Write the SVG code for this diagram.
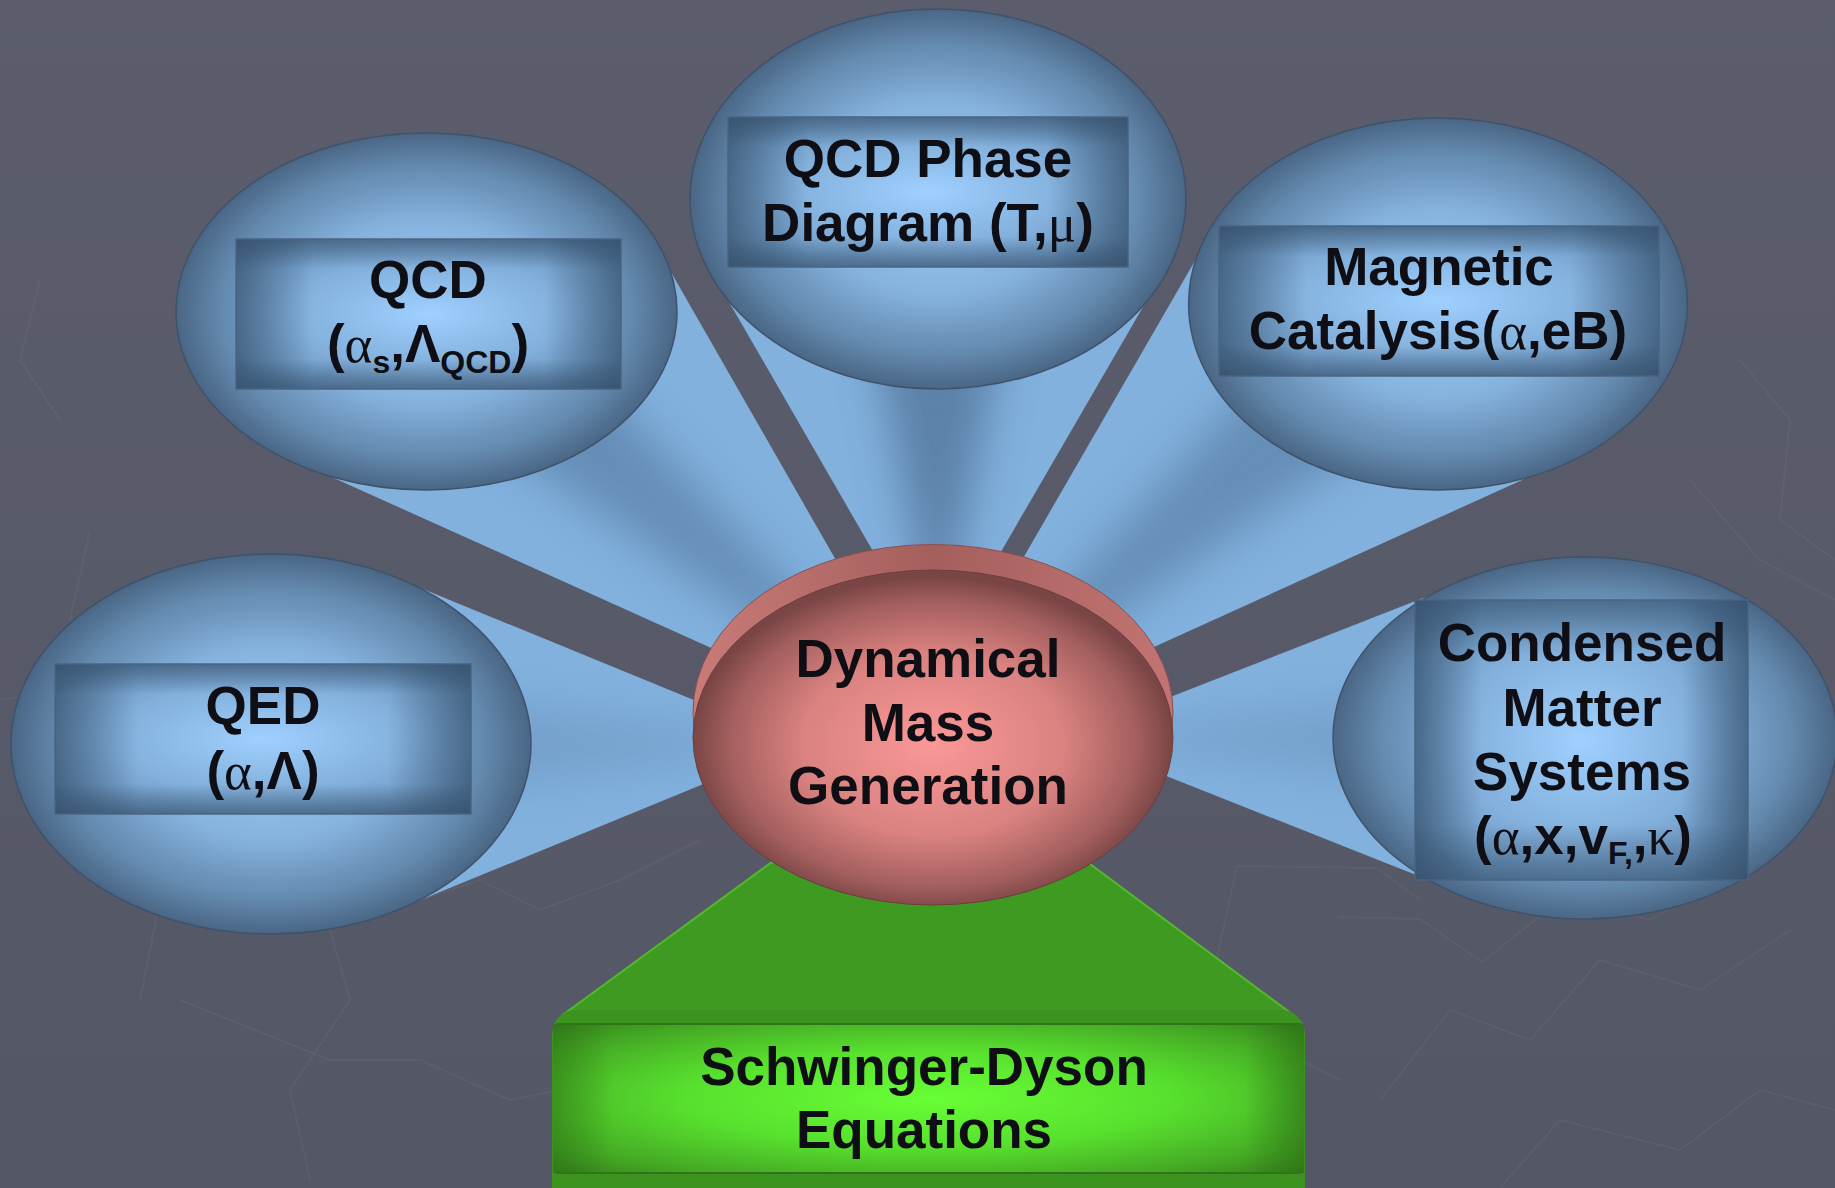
<svg xmlns="http://www.w3.org/2000/svg" width="1835" height="1188" viewBox="0 0 1835 1188">
  <defs>
    <style>
      .t { font-family: "Liberation Sans", Arial, sans-serif; font-weight: bold; font-size: 53px; fill: #0e0e14; text-anchor: middle; }
      .g { font-family: "Liberation Serif", "DejaVu Serif", serif; font-weight: normal; }
      .sub { font-size: 32px; }
      .bubble { fill: url(#bubbleGrad); stroke: #3e536b; stroke-width: 1.5; }
      .panel { fill: url(#panelGrad); }
      .panelH { fill: url(#panelEdgeH); }
      .panelV { fill: url(#panelEdgeV); }
      .panelLine { fill: none; stroke: #4a6482; stroke-width: 1.5; }
      .wedge { fill: #82b1de; }
      .core { fill: #4f7296; filter: url(#soft); }
      .bgline { fill: none; stroke: #6c6e7e; stroke-width: 2; opacity: 0.3; }
    </style>
    <linearGradient id="bgGrad" x1="0" y1="0" x2="0" y2="1">
      <stop offset="0" stop-color="#5b5d6d"/>
      <stop offset="1" stop-color="#545766"/>
    </linearGradient>
    <radialGradient id="bubbleGrad" cx="0.5" cy="0.5" r="0.5">
      <stop offset="0" stop-color="#9ccbf7"/>
      <stop offset="0.5" stop-color="#86b3de"/>
      <stop offset="0.82" stop-color="#6389ae"/>
      <stop offset="1" stop-color="#4a6685"/>
    </radialGradient>
    <radialGradient id="panelGrad" cx="0.5" cy="0.5" r="0.6">
      <stop offset="0" stop-color="#9fd0ff"/>
      <stop offset="0.6" stop-color="#82afdb"/>
      <stop offset="1" stop-color="#6690b8"/>
    </radialGradient>
    <linearGradient id="panelEdgeH" x1="0" y1="0" x2="1" y2="0">
      <stop offset="0" stop-color="#2e4660" stop-opacity="0.6"/>
      <stop offset="0.2" stop-color="#2e4660" stop-opacity="0"/>
      <stop offset="0.8" stop-color="#2e4660" stop-opacity="0"/>
      <stop offset="1" stop-color="#2e4660" stop-opacity="0.6"/>
    </linearGradient>
    <linearGradient id="panelEdgeV" x1="0" y1="0" x2="0" y2="1">
      <stop offset="0" stop-color="#2e4660" stop-opacity="0.55"/>
      <stop offset="0.2" stop-color="#2e4660" stop-opacity="0"/>
      <stop offset="0.8" stop-color="#2e4660" stop-opacity="0"/>
      <stop offset="1" stop-color="#2e4660" stop-opacity="0.55"/>
    </linearGradient>
    <linearGradient id="rimGrad" x1="0" y1="0" x2="1" y2="0">
      <stop offset="0" stop-color="#c97b78"/>
      <stop offset="0.5" stop-color="#a45f5d"/>
      <stop offset="1" stop-color="#c27472"/>
    </linearGradient>
    <radialGradient id="faceGrad" cx="0.5" cy="0.52" r="0.5">
      <stop offset="0" stop-color="#fb9896"/>
      <stop offset="0.55" stop-color="#d98280"/>
      <stop offset="0.85" stop-color="#a35f5e"/>
      <stop offset="1" stop-color="#7a4545"/>
    </radialGradient>
    <radialGradient id="greenFace" cx="0.5" cy="0.5" r="0.72">
      <stop offset="0" stop-color="#68ff35"/>
      <stop offset="0.45" stop-color="#58e02e"/>
      <stop offset="0.8" stop-color="#44a824"/>
      <stop offset="1" stop-color="#347f1a"/>
    </radialGradient>
    <linearGradient id="greenSides" x1="0" y1="0" x2="1" y2="0">
      <stop offset="0" stop-color="#2c6e15" stop-opacity="0.5"/>
      <stop offset="0.08" stop-color="#2c6e15" stop-opacity="0"/>
      <stop offset="0.92" stop-color="#2c6e15" stop-opacity="0"/>
      <stop offset="1" stop-color="#2c6e15" stop-opacity="0.6"/>
    </linearGradient>
    <filter id="soft" x="-30%" y="-30%" width="160%" height="160%">
      <feGaussianBlur stdDeviation="22"/>
    </filter>
    <clipPath id="clipQcd"><polygon points="947,754 296,461 656,246"/></clipPath>
    <clipPath id="clipPhase"><polygon points="937,662 714,276 1161,276"/></clipPath>
    <clipPath id="clipMag"><polygon points="907,759 1211,233 1564,461"/></clipPath>
    <clipPath id="clipQed"><polygon points="801,744 401,580 401,908"/></clipPath>
    <clipPath id="clipCm"><polygon points="1068,737 1464,582 1464,894"/></clipPath>
  </defs>

  <!-- backdrop -->
  <rect x="0" y="0" width="1835" height="1188" fill="url(#bgGrad)"/>
  <g id="backdrop-lines">
    <polyline class="bgline" points="0,700 60,690 120,640 210,700 300,690"/>
    <polyline class="bgline" points="90,530 70,620 140,700 100,820 160,900 140,1000"/>
    <polyline class="bgline" points="180,1000 330,1060 420,1060 510,1100 560,1090"/>
    <polyline class="bgline" points="310,1180 290,1090 350,1000 330,930"/>
    <polyline class="bgline" points="420,900 480,880 540,910 620,880 700,840"/>
    <polyline class="bgline" points="1237,866 1377,868 1420,900"/>
    <polyline class="bgline" points="1237,866 1217,957 1260,1040 1340,1080"/>
    <polyline class="bgline" points="1338,917 1420,919 1482,962 1560,900 1650,920 1720,880"/>
    <polyline class="bgline" points="1380,1100 1450,1010 1530,1040 1600,960 1700,990 1790,930"/>
    <polyline class="bgline" points="1500,1188 1560,1120 1680,1150 1760,1090 1835,1110"/>
    <polyline class="bgline" points="1740,360 1790,420 1780,520 1835,560"/>
    <polyline class="bgline" points="1690,480 1760,560 1835,600"/>
    <polyline class="bgline" points="40,280 20,360 60,420"/>
  </g>

  <!-- connector cones linking each topic to the central node -->
  <g id="connectors">
    <polygon class="wedge" points="947,754 296,461 656,246"/>
    <polygon class="core" clip-path="url(#clipQcd)" points="947,754 420,390 540,318" opacity="0.55"/>
    <polygon class="wedge" points="937,662 714,276 1161,276"/>
    <polygon class="core" clip-path="url(#clipPhase)" points="937,662 860,276 1015,276" opacity="0.75"/>
    <polygon class="wedge" points="907,759 1211,233 1564,461"/>
    <polygon class="core" clip-path="url(#clipMag)" points="907,759 1325,306 1450,388" opacity="0.55"/>
    <polygon class="wedge" points="801,744 401,580 401,908"/>
    <polygon class="core" clip-path="url(#clipQed)" points="801,744 401,690 401,800" opacity="0.25"/>
    <polygon class="wedge" points="1068,737 1464,582 1464,894"/>
    <polygon class="core" clip-path="url(#clipCm)" points="1068,737 1464,690 1464,790" opacity="0.25"/>
  </g>

  <!-- Schwinger-Dyson pedestal -->
  <g id="node-sde">
    <polygon points="772,862 1090,864 1292,1014 564,1014" fill="#3e9a21" stroke="#55b82c" stroke-width="2"/>
    <rect x="552" y="1010" width="753" height="200" rx="24" fill="#3c931f"/>
    <rect x="553" y="1024" width="751" height="149" fill="url(#greenFace)"/>
    <rect x="553" y="1024" width="751" height="149" fill="url(#greenSides)"/>
    <line x1="556" y1="1024" x2="1301" y2="1024" stroke="#2f7518" stroke-width="2"/>
    <line x1="556" y1="1173" x2="1301" y2="1173" stroke="#2f7518" stroke-width="2"/>
    <text class="t" x="924" y="1085">Schwinger-Dyson</text>
    <text class="t" x="924" y="1148">Equations</text>
  </g>

  <g id="node-qcd">
    <ellipse class="bubble" cx="426.5" cy="311.5" rx="250.5" ry="178.5"/>
    <rect class="panel" x="236" y="239" width="385" height="150"/>
    <rect class="panelH" x="236" y="239" width="385" height="150"/>
    <rect class="panelV" x="236" y="239" width="385" height="150"/>
    <rect class="panelLine" x="236" y="239" width="385" height="150"/>
    <text class="t" x="428" y="298">QCD</text>
    <text class="t" x="428" y="362">(<tspan class="g">α</tspan><tspan class="sub" dy="11">s</tspan><tspan dy="-11">,Λ</tspan><tspan class="sub" dy="11">QCD</tspan><tspan dy="-11">)</tspan></text>
  </g>

  <g id="node-phase">
    <ellipse class="bubble" cx="938" cy="199" rx="248" ry="190"/>
    <rect class="panel" x="728" y="117" width="400" height="150"/>
    <rect class="panelH" x="728" y="117" width="400" height="150"/>
    <rect class="panelV" x="728" y="117" width="400" height="150"/>
    <rect class="panelLine" x="728" y="117" width="400" height="150"/>
    <text class="t" x="928" y="177">QCD Phase</text>
    <text class="t" x="928" y="241">Diagram (T,<tspan class="g">μ</tspan>)</text>
  </g>

  <g id="node-magnetic">
    <ellipse class="bubble" cx="1438" cy="304" rx="249.4" ry="186"/>
    <rect class="panel" x="1219" y="226" width="440" height="150"/>
    <rect class="panelH" x="1219" y="226" width="440" height="150"/>
    <rect class="panelV" x="1219" y="226" width="440" height="150"/>
    <rect class="panelLine" x="1219" y="226" width="440" height="150"/>
    <text class="t" x="1439" y="285">Magnetic</text>
    <text class="t" x="1438" y="349">Catalysis(<tspan class="g">α</tspan>,eB)</text>
  </g>

  <g id="node-qed">
    <ellipse class="bubble" cx="271" cy="744" rx="260" ry="190"/>
    <rect class="panel" x="55" y="664" width="416" height="150"/>
    <rect class="panelH" x="55" y="664" width="416" height="150"/>
    <rect class="panelV" x="55" y="664" width="416" height="150"/>
    <rect class="panelLine" x="55" y="664" width="416" height="150"/>
    <text class="t" x="263" y="724">QED</text>
    <text class="t" x="263" y="789">(<tspan class="g">α</tspan>,Λ)</text>
  </g>

  <g id="node-condensed">
    <ellipse class="bubble" cx="1585" cy="738" rx="252" ry="181"/>
    <rect class="panel" x="1415" y="600" width="333" height="280"/>
    <rect class="panelH" x="1415" y="600" width="333" height="280"/>
    <rect class="panelV" x="1415" y="600" width="333" height="280"/>
    <rect class="panelLine" x="1415" y="600" width="333" height="280"/>
    <text class="t" x="1582" y="661">Condensed</text>
    <text class="t" x="1582" y="726">Matter</text>
    <text class="t" x="1582" y="790">Systems</text>
    <text class="t" x="1583" y="854">(<tspan class="g">α</tspan>,x,v<tspan class="sub" dy="10">F,</tspan><tspan dy="-10">,</tspan><tspan class="g">κ</tspan>)</text>
  </g>

  <g id="node-dmg">
    <ellipse cx="933" cy="712" rx="240" ry="167.5" fill="url(#rimGrad)" stroke="#8a5050" stroke-width="1"/>
    <ellipse cx="933" cy="737.5" rx="240" ry="167.5" fill="url(#faceGrad)" stroke="#6e3d3d" stroke-width="1"/>
    <text class="t" x="928" y="677">Dynamical</text>
    <text class="t" x="928" y="741">Mass</text>
    <text class="t" x="928" y="804">Generation</text>
  </g>
</svg>
